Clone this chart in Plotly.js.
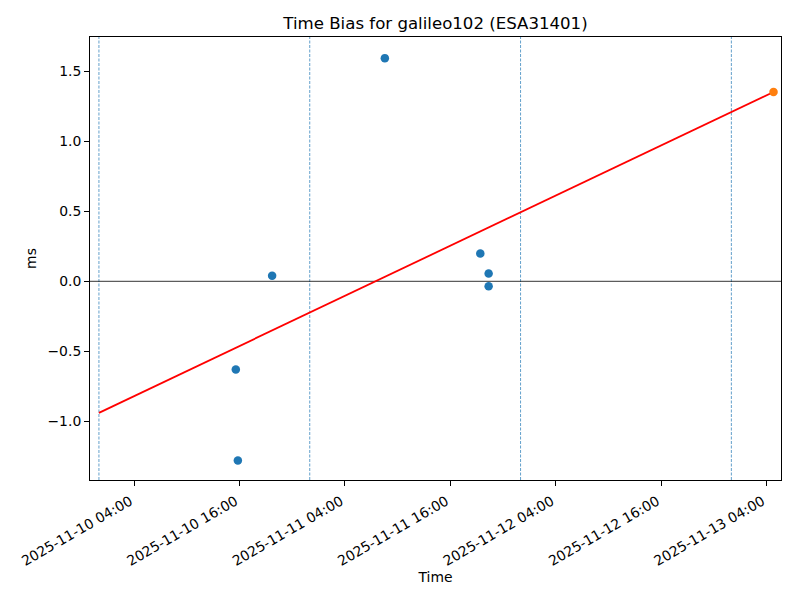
<!DOCTYPE html>
<html>
<head>
<meta charset="utf-8">
<script src="https://cdn.plot.ly/plotly-3.0.1.min.js"></script>
<style>html,body{margin:0;padding:0;background:#fff;}#chart{width:800px;height:600px;}</style>
</head>
<body>
<div id="chart"></div>
<script>
// Observed time-bias points (blue)
const obsTimes = [
  "2025-11-10 15:35", "2025-11-10 15:49", "2025-11-10 19:43",
  "2025-11-11 08:33", "2025-11-11 19:25", "2025-11-11 20:22", "2025-11-11 20:22"
];
const obsBias = [-0.63, -1.28, 0.04, 1.595, 0.198, 0.055, -0.036];

// Predicted point (orange)
const predTimes = ["2025-11-13 04:48"];
const predBias = [1.353];

// Fit line endpoints (red)
const fitTimes = ["2025-11-10 00:00", "2025-11-13 04:48"];
const fitBias = [-0.94, 1.353];

// Day boundaries (dotted vertical lines)
const midnights = ["2025-11-10 00:00", "2025-11-11 00:00", "2025-11-12 00:00", "2025-11-13 00:00"];

const xRange = ["2025-11-09 22:59", "2025-11-13 05:39"];
const yRange = [-1.42, 1.746];
const yTicks = [-1.0, -0.5, 0.0, 0.5, 1.0, 1.5];

const font = {family: "DejaVu Sans", size: 13.9, color: "#000"};

const traces = [
  {x: fitTimes, y: fitBias, mode: "lines", line: {color: "#ff0000", width: 1.8}, hoverinfo: "skip"},
  {x: obsTimes, y: obsBias, mode: "markers", marker: {color: "#1f77b4", size: 8.5}},
  {x: predTimes, y: predBias, mode: "markers", marker: {color: "#ff7f0e", size: 8.5}}
];

const shapes = midnights.map(t => ({
  type: "line", xref: "x", yref: "paper", x0: t, x1: t, y0: 0, y1: 1,
  line: {color: "#1f77b4", width: 0.7, dash: "3px,1.5px"}, layer: "below"
}));
shapes.push({
  type: "line", xref: "paper", yref: "y", x0: 0, x1: 1, y0: 0, y1: 0,
  line: {color: "#000", width: 0.8}, layer: "below"
});

const layout = {
  width: 800, height: 600,
  margin: {l: 90, r: 19, t: 37, b: 120},
  paper_bgcolor: "#fff", plot_bgcolor: "#fff",
  showlegend: false,
  font: font,
  title: {text: "Time Bias for galileo102 (ESA31401)", font: {family: "DejaVu Sans", size: 16.6, color: "#000"},
          x: 0.5, xref: "paper", y: 1 - 23/600, yref: "container", yanchor: "middle"},
  xaxis: {
    type: "date", range: xRange,
    tick0: "2025-11-10 04:00", dtick: 12*3600*1000, tickformat: "%Y-%m-%d %H:%M",
    tickangle: -30, ticks: "outside", ticklen: 5, tickwidth: 1, tickcolor: "#000",
    ticklabelshift: -4, ticklabelstandoff: 2,
    showgrid: false, zeroline: false, showline: true, linecolor: "#000", linewidth: 1, mirror: true,
    tickfont: font,
    title: {text: "Time", font: font, standoff: 4}
  },
  yaxis: {
    range: yRange, tickvals: yTicks, tickformat: ".1f",
    ticks: "outside", ticklen: 5, tickwidth: 1, tickcolor: "#000",
    showgrid: false, zeroline: false, showline: true, linecolor: "#000", linewidth: 1, mirror: true,
    tickfont: font,
    title: {text: "ms", font: font, standoff: 7}
  },
  shapes: shapes
};

Plotly.newPlot("chart", traces, layout, {displayModeBar: false, staticPlot: true});
</script>
</body>
</html>
